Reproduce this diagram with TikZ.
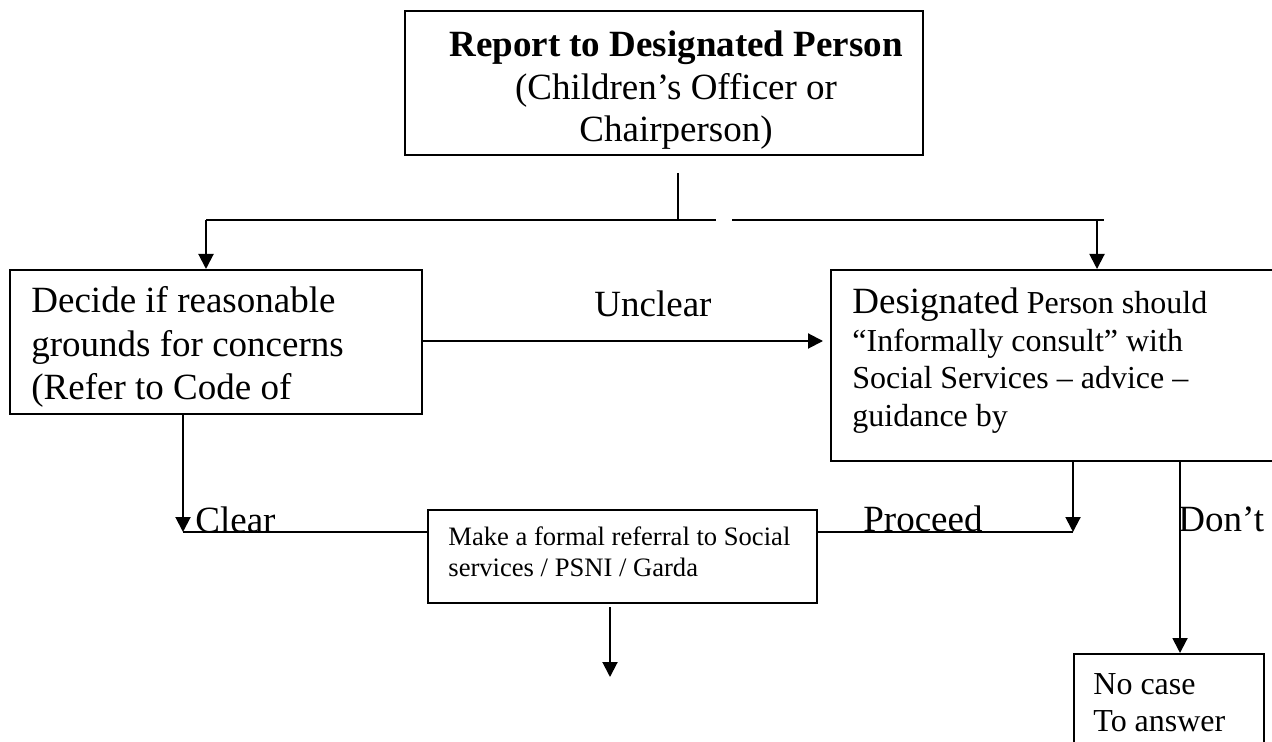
\documentclass[tikz,border=0pt]{standalone}
\usepackage{fontspec}
\setmainfont{Liberation Serif}
\usetikzlibrary{arrows.meta}
\tikzset{
  box/.style={draw, line width=1pt, rectangle, inner sep=0pt, anchor=north west},
  line/.style={line width=1pt},
  arr/.style={line width=1pt, -{Triangle[length=7.5pt,width=7.5pt]}},
  big/.style={inner sep=0pt, font=\fontsize{18.5}{21.5}\selectfont},
  mid/.style={inner sep=0pt, font=\fontsize{16}{18.5}\selectfont},
  small/.style={inner sep=0pt, font=\fontsize{13.3}{16}\selectfont},
}
\begin{document}
\begin{tikzpicture}[x=0.5pt,y=-0.5pt]
\useasboundingbox (0,0) rectangle (1272,742);
\clip (0,0) rectangle (1272,742);
\fill[white] (0,0) rectangle (1272,742);

% boxes
\node[box, minimum width=259pt, minimum height=72pt] (top) at (404,10) {};
\node[box, minimum width=206pt, minimum height=72pt] (left) at (9,269) {};
\node[box, minimum width=240pt, minimum height=95.5pt] (right) at (830,269) {};
\node[box, minimum width=194.5pt, minimum height=46.5pt] (formal) at (427,509) {};
\node[box, minimum width=95pt, minimum height=70pt] (nocase) at (1073,653) {};

% texts
\node[big, anchor=base] (t1) at (676,57) {\bfseries Report to Designated Person};
\node[big, anchor=base] (t2) at (676,100) {(Children’s Officer or};
\node[big, anchor=base] (t3) at (676,142) {Chairperson)};

\node[big, anchor=base west] (l1) at (31,313) {Decide if reasonable};
\node[big, anchor=base west] (l2) at (31,357) {grounds for concerns};
\node[big, anchor=base west] (l3) at (31,400) {(Refer to Code of};

\node[big, anchor=base west] (r1) at (852,314) {Designated\fontsize{16}{18.5}\selectfont{} Person should};
\node[mid, anchor=base west] (r2) at (852,352) {“Informally consult” with};
\node[mid, anchor=base west] (r3) at (852,389) {Social Services – advice –};
\node[mid, anchor=base west] (r4) at (852,426) {guidance by};

\node[small, anchor=base west] (f1) at (448,545) {Make a formal referral to Social};
\node[small, anchor=base west] (f2) at (448,576) {services / PSNI / Garda};

\node[mid, anchor=base west] (n1) at (1093,694) {No case};
\node[mid, anchor=base west] (n2) at (1093,731) {To answer};

% labels
\node[big, anchor=base west] (unclear) at (594,317) {Unclear};
\node[big, anchor=base west] (clear) at (195,532) {Clear};
\node[big, anchor=base west] (proceed) at (863,531) {Proceed};
\node[big, anchor=base west] (dont) at (1178,531) {Don’t};

% connectors
\coordinate (jtop) at (678,173);
\coordinate (junc) at (678,220);
\coordinate (hl) at (206,220);
\coordinate (g1) at (716,220);
\coordinate (g2) at (732,220);
\coordinate (hr) at (1104,220);
\coordinate (ar) at (1097,220);
\draw[line] (jtop) -- (junc);
\draw[line] (hl) -- (g1);
\draw[line] (g2) -- (hr);
\draw[arr] (hl) -- (hl |- left.north);
\draw[arr] (ar) -- (ar |- right.north);

\coordinate (uy) at (0,341);
\draw[arr] (left.east |- uy) -- ([xshift=-3.5pt]right.west |- uy);

\coordinate (cx) at (183,532);
\draw[arr] (left.south -| cx) -- (cx);
\draw[line] (cx) -- (cx -| formal.west);

\coordinate (px) at (1073,532);
\draw[arr] (right.south -| px) -- (px);
\draw[line] (formal.east |- px) -- (px);

\coordinate (dx) at (1180,0);
\draw[arr] (right.south -| dx) -- (nocase.north -| dx);

\coordinate (fd) at (610,677);
\draw[arr] ([yshift=-1.5pt]formal.south -| fd) -- (fd);
\end{tikzpicture}
\end{document}
